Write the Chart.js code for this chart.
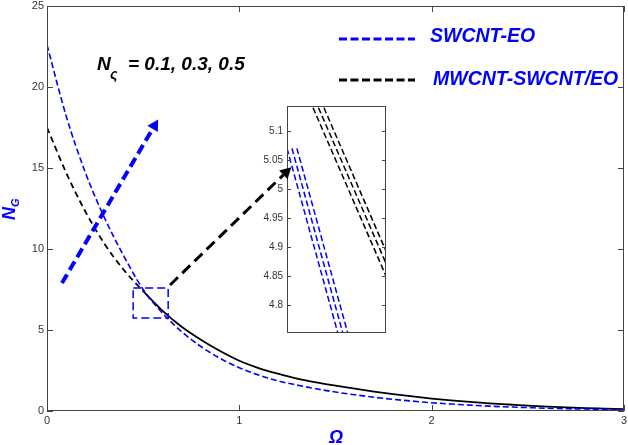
<!DOCTYPE html>
<html lang="en">
<head>
<meta charset="UTF-8">
<title>N_G vs Omega</title>
<script src="https://cdn.jsdelivr.net/npm/chart.js"></script>
<style>
    body {
        margin: 0;
        background: #fff;
    }

    .wrap {
        position: relative;
        width: 628px;
        height: 445px;
    }

    #mainChart {
        position: absolute;
        left: 0;
        top: 0;
        z-index: 2;
    }

    #insetChart {
        position: absolute;
        left: 250px;
        top: 100px;
        z-index: 1;
    }
</style>
</head>
<body>
<div class="wrap">
    <canvas id="mainChart" width="628" height="445"></canvas>
    <canvas id="insetChart" width="137" height="240"></canvas>
</div>
<script>
    // values
    const omega = [0, 0.1, 0.2, 0.3, 0.4, 0.5, 0.6, 0.7, 0.8, 0.9, 1.0,
        1.1, 1.2, 1.3, 1.4, 1.5, 1.6, 1.7, 1.8, 1.9, 2.0,
        2.1, 2.2, 2.3, 2.4, 2.5, 2.6, 2.7, 2.8, 2.9, 3.0];
    const swcntEO = [22.6, 18.2, 14.7, 11.9, 9.55, 7.5, 6.05, 4.9, 3.98, 3.25, 2.67,
        2.22, 1.86, 1.6, 1.37, 1.17, 1.0, 0.85, 0.72, 0.61, 0.51,
        0.43, 0.36, 0.3, 0.25, 0.21, 0.17, 0.14, 0.12, 0.1, 0.08];
    const mwcntSwcntEO = [17.5, 14.7, 12.3, 10.3, 8.7, 7.4, 6.2, 5.2, 4.4, 3.7, 3.1,
        2.65, 2.3, 2.0, 1.77, 1.57, 1.38, 1.2, 1.04, 0.9, 0.77,
        0.66, 0.56, 0.47, 0.4, 0.33, 0.27, 0.22, 0.18, 0.15, 0.12];

    const xTicks = [0, 1, 2, 3];
    const xTickLabels = ['0', '1', '2', '3'];
    const yTicks = [0, 5, 10, 15, 20, 25];
    const yTickLabels = ['0', '5', '10', '15', '20', '25'];

    // zoomed view: each line is [x start, N_G start, x end, N_G end] (x relative 0..1)
    const insetSwcnt = [[0.00, 5.07, 0.62, 4.686], [0.05, 5.07, 0.67, 4.686], [0.10, 5.07, 0.72, 4.686]];
    const insetMwcnt = [[0.263, 5.14, 1.0, 4.85], [0.318, 5.14, 1.0, 4.872], [0.373, 5.14, 1.0, 4.893]];
    const insetTicks = [4.8, 4.85, 4.9, 4.95, 5, 5.05, 5.1];
    const insetTickLabels = ['4.8', '4.85', '4.9', '4.95', '5', '5.05', '5.1'];

    const seriesNames = ['SWCNT-EO', 'MWCNT-SWCNT/EO'];
    const paramText = ['N', '\u03C2', '= 0.1, 0.3, 0.5'];

    const BLUE = '#0000ff';
    const FONT = '"Liberation Sans", Arial, sans-serif';
    Chart.defaults.font.family = FONT;

    function arrow(ctx, x0, y0, x1, y1, color, width, dash, head) {
        const ang = Math.atan2(y1 - y0, x1 - x0);
        const bx = x1 - head * Math.cos(ang);
        const by = y1 - head * Math.sin(ang);
        ctx.strokeStyle = color;
        ctx.fillStyle = color;
        ctx.lineWidth = width;
        ctx.setLineDash(dash);
        ctx.beginPath();
        ctx.moveTo(x0, y0);
        ctx.lineTo(bx, by);
        ctx.stroke();
        ctx.setLineDash([]);
        const hw = head * 0.55;
        ctx.beginPath();
        ctx.moveTo(x1, y1);
        ctx.lineTo(bx + hw * Math.sin(ang), by - hw * Math.cos(ang));
        ctx.lineTo(bx - hw * Math.sin(ang), by + hw * Math.cos(ang));
        ctx.closePath();
        ctx.fill();
    }

    function drawFrame(chart, xVals, yVals, tickLen, mirrorX) {
        const { ctx, chartArea: a } = chart;
        ctx.save();
        ctx.strokeStyle = '#444';
        ctx.lineWidth = 1;
        ctx.setLineDash([]);
        ctx.strokeRect(a.left + 0.5, a.top + 0.5, a.right - a.left - 1, a.bottom - a.top - 1);
        ctx.beginPath();
        if (xVals) {
            xVals.forEach(v => {
                const px = Math.round(chart.scales.x.getPixelForValue(v)) + 0.5;
                ctx.moveTo(px, a.bottom);
                ctx.lineTo(px, a.bottom - tickLen);
                if (mirrorX) {
                    ctx.moveTo(px, a.top);
                    ctx.lineTo(px, a.top + tickLen);
                }
            });
        }
        yVals.forEach(v => {
            const py = Math.round(chart.scales.y.getPixelForValue(v)) + 0.5;
            ctx.moveTo(a.left, py);
            ctx.lineTo(a.left + tickLen, py);
            ctx.moveTo(a.right, py);
            ctx.lineTo(a.right - tickLen, py);
        });
        ctx.stroke();
        ctx.restore();
    }

    const mainDecor = {
        id: 'mainDecor',
        afterDraw(chart) {
            const { ctx, scales: { x, y } } = chart;
            drawFrame(chart, xTicks, yTicks, 6, true);
            ctx.save();

            // zoom box
            ctx.strokeStyle = BLUE;
            ctx.lineWidth = 1.5;
            ctx.setLineDash([8, 4]);
            const rx0 = x.getPixelForValue(0.448), rx1 = x.getPixelForValue(0.63);
            const ry0 = y.getPixelForValue(7.6), ry1 = y.getPixelForValue(5.74);
            ctx.strokeRect(rx0, ry0, rx1 - rx0, ry1 - ry0);

            // arrows
            arrow(ctx, x.getPixelForValue(0.078), y.getPixelForValue(7.9),
                x.getPixelForValue(0.578), y.getPixelForValue(18.0), BLUE, 4, [10, 5], 11);
            arrow(ctx, x.getPixelForValue(0.64), y.getPixelForValue(7.78),
                x.getPixelForValue(1.27), y.getPixelForValue(15.05), '#000', 3, [11, 6], 11);

            // parameter label
            ctx.fillStyle = '#000';
            ctx.textBaseline = 'alphabetic';
            ctx.textAlign = 'left';
            ctx.font = 'italic bold 19px ' + FONT;
            ctx.fillText(paramText[0], 97, 70);
            ctx.font = 'italic bold 14px ' + FONT;
            ctx.fillText(paramText[1], 110, 79);
            ctx.font = 'italic bold 19px ' + FONT;
            ctx.fillText(paramText[2], 128, 70);

            // legend
            ctx.lineWidth = 3;
            ctx.setLineDash([8, 3.5]);
            ctx.strokeStyle = BLUE;
            ctx.beginPath();
            ctx.moveTo(339, 39);
            ctx.lineTo(415, 39);
            ctx.stroke();
            ctx.strokeStyle = '#000';
            ctx.beginPath();
            ctx.moveTo(339, 80);
            ctx.lineTo(415, 80);
            ctx.stroke();
            ctx.setLineDash([]);
            ctx.fillStyle = BLUE;
            ctx.font = 'italic bold 19.5px ' + FONT;
            ctx.fillText(seriesNames[0], 430, 42);
            ctx.fillText(seriesNames[1], 433, 85);

            // axis titles
            ctx.textAlign = 'center';
            ctx.font = 'italic bold 18px ' + FONT;
            ctx.fillText('\u03A9', 336, 443);
            ctx.save();
            ctx.translate(15, 220);
            ctx.rotate(-Math.PI / 2);
            ctx.textAlign = 'left';
            ctx.font = 'italic bold 18px ' + FONT;
            ctx.fillText('N', 0, 0);
            ctx.font = 'italic bold 11px ' + FONT;
            ctx.fillText('G', 13, 4);
            ctx.restore();

            ctx.restore();
        }
    };

    function fixX(h) {
        return s => { s.height = h; s.paddingLeft = 0; s.paddingRight = 0; };
    }

    function fixY(w) {
        return s => { s.width = w; s.paddingTop = 0; s.paddingBottom = 0; };
    }

    new Chart(document.getElementById('mainChart'), {
        type: 'line',
        data: {
            datasets: [{
                label: seriesNames[0],
                data: omega.map((w, i) => ({ x: w, y: swcntEO[i] })),
                borderColor: BLUE,
                borderWidth: 1.6,
                borderDash: [6, 3],
                pointRadius: 0,
                cubicInterpolationMode: 'monotone',
                clip: 0
            }, {
                label: seriesNames[1],
                data: omega.map((w, i) => ({ x: w, y: mwcntSwcntEO[i] })),
                borderColor: '#000',
                borderWidth: 1.8,
                pointRadius: 0,
                cubicInterpolationMode: 'monotone',
                segment: {
                    borderDash: c => c.p0.parsed.x < 0.5 ? [6, 4] : undefined
                },
                clip: 0
            }]
        },
        options: {
            responsive: false,
            animation: false,
            devicePixelRatio: 1,
            layout: { padding: { top: 6, right: 4, left: 0, bottom: 0 } },
            plugins: { legend: { display: false }, tooltip: { enabled: false } },
            scales: {
                x: {
                    type: 'linear',
                    min: 0,
                    max: 3,
                    afterBuildTicks: s => { s.ticks = xTicks.map(v => ({ value: v })); },
                    afterFit: fixX(34),
                    grid: { display: false, drawTicks: false },
                    border: { display: false },
                    ticks: {
                        color: '#333',
                        font: { family: FONT, size: 11 },
                        padding: 3,
                        maxRotation: 0,
                        callback: (v, i) => xTickLabels[i]
                    }
                },
                y: {
                    min: 0,
                    max: 25,
                    afterBuildTicks: s => { s.ticks = yTicks.map(v => ({ value: v })); },
                    afterFit: fixY(47),
                    grid: { display: false, drawTicks: false },
                    border: { display: false },
                    ticks: {
                        color: '#333',
                        font: { family: FONT, size: 11 },
                        padding: 3,
                        callback: (v, i) => yTickLabels[i]
                    }
                }
            }
        },
        plugins: [mainDecor]
    });

    const insetDecor = {
        id: 'insetDecor',
        beforeDraw(chart) {
            const { ctx, chartArea: a } = chart;
            ctx.save();
            ctx.fillStyle = '#fff';
            ctx.fillRect(a.left, a.top, a.right - a.left, a.bottom - a.top);
            ctx.restore();
        },
        afterDraw(chart) {
            drawFrame(chart, null, insetTicks, 4, false);
        }
    };

    const insetSets = [];
    insetSwcnt.forEach(l => insetSets.push({
        data: [{ x: l[0], y: l[1] }, { x: l[2], y: l[3] }],
        borderColor: BLUE, borderWidth: 1.5, borderDash: [6, 3], pointRadius: 0, clip: 0
    }));
    insetMwcnt.forEach(l => insetSets.push({
        data: [{ x: l[0], y: l[1] }, { x: l[2], y: l[3] }],
        borderColor: '#000', borderWidth: 1.5, borderDash: [6, 3], pointRadius: 0, clip: 0
    }));

    new Chart(document.getElementById('insetChart'), {
        type: 'line',
        data: { datasets: insetSets },
        options: {
            responsive: false,
            animation: false,
            devicePixelRatio: 1,
            layout: { padding: { top: 6, right: 1, left: 0, bottom: 7 } },
            plugins: { legend: { display: false }, tooltip: { enabled: false } },
            scales: {
                x: { type: 'linear', min: 0, max: 1, display: false },
                y: {
                    min: 4.752,
                    max: 5.143,
                    afterBuildTicks: s => { s.ticks = insetTicks.map(v => ({ value: v })); },
                    afterFit: fixY(37),
                    grid: { display: false, drawTicks: false },
                    border: { display: false },
                    ticks: {
                        color: '#333',
                        font: { family: FONT, size: 10 },
                        padding: 4,
                        callback: (v, i) => insetTickLabels[i]
                    }
                }
            }
        },
        plugins: [insetDecor]
    });
</script>
</body>
</html>
